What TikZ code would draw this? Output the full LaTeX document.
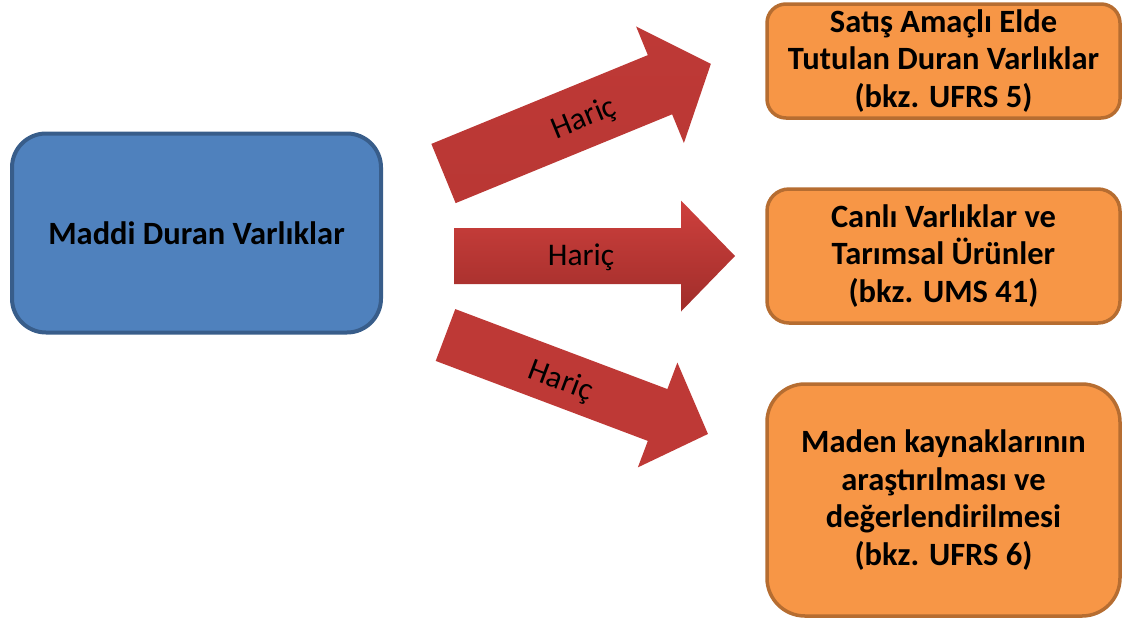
\documentclass[tikz,border=0pt]{standalone}
\usepackage{fontspec}
\setmainfont{Carlito}
\definecolor{bluefill}{RGB}{79,129,189}
\definecolor{blueline}{RGB}{56,93,138}
\definecolor{orangefill}{RGB}{247,150,70}
\definecolor{orangeline}{RGB}{182,109,49}
\definecolor{redlight}{RGB}{206,64,61}
\definecolor{redmid}{RGB}{190,57,54}
\definecolor{reddark}{RGB}{160,45,42}
\begin{document}
\begin{tikzpicture}[x=1pt,y=-1pt,
  bluebox/.style={draw=blueline, fill=bluefill, line width=4pt, align=center,
    font=\fontsize{32.5}{37.5}\selectfont\bfseries, inner sep=0pt},
  orangebox/.style={draw=orangeline, fill=orangefill, line width=3.5pt, align=center,
    font=\fontsize{32.5}{37.5}\selectfont\bfseries, inner sep=0pt},
  haric/.style={font=\fontsize{31.5}{37}\selectfont, inner sep=0pt}
]
\useasboundingbox (0,0) rectangle (1122,622);
\clip (0,0) rectangle (1122,622);

% boxes
\node[bluebox, minimum width=369pt, minimum height=199pt, rounded corners=34pt]
  (mdv) at (196.5,233) {Maddi Duran Varlıklar};
\node[orangebox, minimum width=353pt, minimum height=114pt, rounded corners=19pt]
  (o1) at (943.5,61) {Satış Amaçlı Elde\\Tutulan Duran Varlıklar\\(bkz. UFRS 5)};
\node[orangebox, minimum width=353pt, minimum height=134pt, rounded corners=22pt]
  (o2) at (943.5,256) {Canlı Varlıklar ve\\Tarımsal Ürünler\\(bkz. UMS 41)};
\node[orangebox, minimum width=353pt, minimum height=232pt, rounded corners=38pt]
  (o3) at (943.5,500) {Maden kaynaklarının\\araştırılması ve\\değerlendirilmesi\\(bkz. UFRS 6)};

% block arrows, each drawn in its own frame (tail middle at origin, pointing along x)
\begin{scope}[shift={(443.5,173.5)}, rotate=22.3]
  \shade[top color=redmid, middle color=redlight, bottom color=redmid!85!reddark]
    (0,-32) -- (234,-32) -- (234,-63) -- (289,0) -- (234,63) -- (234,32) -- (0,32) -- cycle;
  \node[haric, rotate=22.3] (h1) at (151,3) {Hariç};
\end{scope}
\begin{scope}[shift={(454,256)}]
  \shade[top color=redlight, middle color=redmid, bottom color=reddark]
    (0,-28) -- (227,-28) -- (227,-55.5) -- (281,0) -- (227,55.5) -- (227,28) -- (0,28) -- cycle;
  \node[haric] (h2) at (127,1) {Hariç};
\end{scope}
\begin{scope}[shift={(445.5,335)}, rotate=-20.66]
  \shade[top color=redmid, middle color=reddark, bottom color=redmid]
    (0,-27.7) -- (226.7,-27.7) -- (226.7,-56) -- (280.5,0) -- (226.7,56) -- (226.7,27.7) -- (0,27.7) -- cycle;
  \node[haric, rotate=-20.66] (h3) at (124,3) {Hariç};
\end{scope}
\end{tikzpicture}
\end{document}
